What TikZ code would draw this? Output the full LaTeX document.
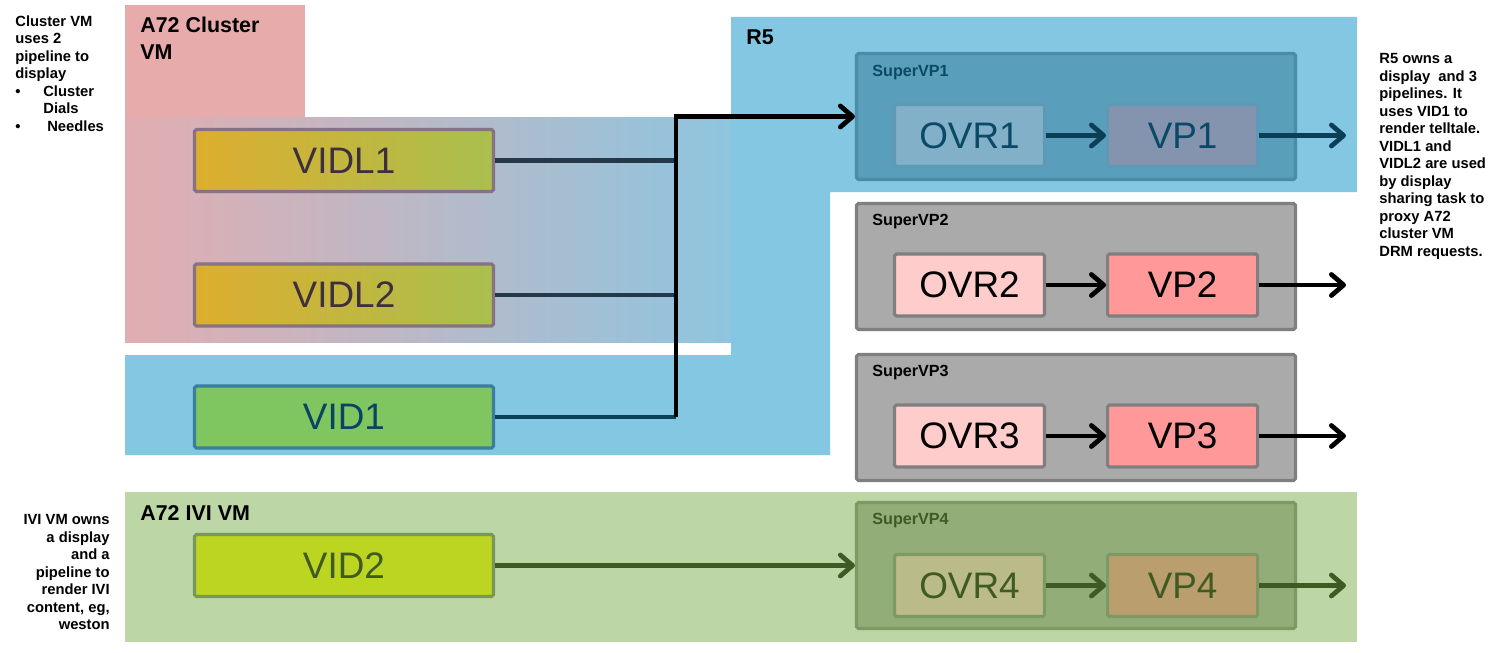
\documentclass[tikz,border=0pt]{standalone}
\usepackage{fontspec}
\setmainfont{Liberation Sans}
\usetikzlibrary{positioning,arrows.meta}

\definecolor{clusterpink}{HTML}{E8ABAB}
\definecolor{mixpink}{HTML}{E2ADB1}
\definecolor{mixblue}{HTML}{8EC5DF}
\definecolor{rblue}{HTML}{84C7E3}
\definecolor{ivigreen}{HTML}{BDD6A5}
\definecolor{svpblue}{HTML}{599EBA}
\definecolor{svpblueline}{HTML}{4A8CA8}
\definecolor{ovrblue}{HTML}{83B0C9}
\definecolor{vpblue}{HTML}{8594AE}
\definecolor{pipeblueline}{HTML}{5E9AB6}
\definecolor{tealtext}{HTML}{0B4A66}
\definecolor{svpgrey}{HTML}{AAAAAA}
\definecolor{svpgreyline}{HTML}{7F7F7F}
\definecolor{ovrpink}{HTML}{FFCCCC}
\definecolor{vppink}{HTML}{FF9999}
\definecolor{svpgreen}{HTML}{93AD79}
\definecolor{svpgreenline}{HTML}{7C9A62}
\definecolor{ovrgreen}{HTML}{BBBB8A}
\definecolor{vpbrown}{HTML}{BA9E6D}
\definecolor{greentext}{HTML}{3F5A22}
\definecolor{vidlleft}{HTML}{DDAE2E}
\definecolor{vidlright}{HTML}{A9BF4E}
\definecolor{vidlline}{HTML}{857283}
\definecolor{vidltext}{HTML}{3E2F3C}
\definecolor{vidgreen}{HTML}{80C660}
\definecolor{vidline}{HTML}{3A7D9C}
\definecolor{vidtext}{HTML}{0B4463}
\definecolor{vidlime}{HTML}{BCD521}
\definecolor{vidlimeline}{HTML}{7A9660}
\definecolor{linkslate}{HTML}{24384A}
\definecolor{linkteal}{HTML}{0B3F57}

\begin{document}
\begin{tikzpicture}[x=0.02cm,y=-0.02cm,node distance=1.2cm,
    src node/.style={rectangle,draw,line width=1.8pt,rounded corners=1pt,inner sep=0pt,
      minimum width=5.98cm,minimum height=1.24cm,font=\fontsize{21}{21}\selectfont},
    super node/.style={rectangle,draw,line width=1.8pt,rounded corners=1pt,
      minimum width=8.78cm,minimum height=2.52cm},
    pipe node/.style={rectangle,draw,line width=1.8pt,rounded corners=1pt,inner sep=0pt,
      minimum width=3cm,minimum height=1.24cm,font=\fontsize{21}{21}\selectfont},
    super label/.style={anchor=west,inner sep=0pt,font=\bfseries\fontsize{9.2}{11}\selectfont},
    vm label/.style={anchor=north west,inner sep=0pt,align=left,font=\bfseries\fontsize{12.2}{15.4}\selectfont},
    note/.style={inner sep=0pt,font=\bfseries\fontsize{8.4}{9.96}\selectfont},
    link/.style={line width=2.6pt},
    flow/.style={line width=2.7pt,-{Straight Barb[length=7pt,width=12pt,round]}}]
    \useasboundingbox (0,0) rectangle (1506,652);
    \fill[white] (0,0) rectangle (1506,652);

    % regions
    \fill[clusterpink] (125,5) rectangle (305,342);
    \shade[left color=mixpink,right color=mixblue] (125,117) rectangle (735,342);
    \fill[rblue] (731,17) -- (1357,17) -- (1357,192) -- (830,192) -- (830,455)
      -- (125,455) -- (125,355) -- (731,355) -- cycle;
    \fill[ivigreen] (125,492) rectangle (1357,642);

    \node[vm label] (cluster label) at (140,17) {A72 Cluster\\VM};
    \node[vm label] (r5 label) at (746,29) {R5};
    \node[vm label] (ivi label) at (140,505) {A72 IVI VM};

    % sources
    \node[src node,left color=vidlleft,right color=vidlright,draw=vidlline,text=vidltext] (vidl1) at (344,160.5) {VIDL1};
    \node[src node,left color=vidlleft,right color=vidlright,draw=vidlline,text=vidltext] (vidl2) at (344,295) {VIDL2};
    \node[src node,fill=vidgreen,draw=vidline,text=vidtext] (vid1) at (344,417) {VID1};
    \node[src node,fill=vidlime,draw=vidlimeline,text=greentext] (vid2) at (344,565.5) {VID2};

    % super pipelines
    \node[super node,fill=svpblue,draw=svpblueline] (svp1) at (1076,116.5) {};
    \node[super label,text=tealtext] (svp1 label) at (872,73) {SuperVP1};
    \node[pipe node,fill=ovrblue,draw=pipeblueline,text=tealtext] (ovr1) at (969.5,135.5) {OVR1};
    \node[pipe node,fill=vpblue,draw=pipeblueline,text=tealtext,right=of ovr1] (vp1) {VP1};

    \node[super node,fill=svpgrey,draw=svpgreyline] (svp2) at (1076,266.5) {};
    \node[super label] (svp2 label) at (872,222) {SuperVP2};
    \node[pipe node,fill=ovrpink,draw=svpgreyline] (ovr2) at (969.5,285) {OVR2};
    \node[pipe node,fill=vppink,draw=svpgreyline,right=of ovr2] (vp2) {VP2};

    \node[super node,fill=svpgrey,draw=svpgreyline] (svp3) at (1076,417.5) {};
    \node[super label] (svp3 label) at (872,373) {SuperVP3};
    \node[pipe node,fill=ovrpink,draw=svpgreyline] (ovr3) at (969.5,436) {OVR3};
    \node[pipe node,fill=vppink,draw=svpgreyline,right=of ovr3] (vp3) {VP3};

    \node[super node,fill=svpgreen,draw=svpgreenline] (svp4) at (1076,565.5) {};
    \node[super label,text=greentext] (svp4 label) at (872,521) {SuperVP4};
    \node[pipe node,fill=ovrgreen,draw=svpgreenline,text=greentext] (ovr4) at (969.5,585.5) {OVR4};
    \node[pipe node,fill=vpbrown,draw=svpgreenline,text=greentext,right=of ovr4] (vp4) {VP4};

    \coordinate (out1) at (1346,135.5);
    \coordinate (out2) at (1346,285);
    \coordinate (out3) at (1346,436);
    \coordinate (out4) at (1346,585.5);
    \coordinate (bus) at (676,0);

    % connectors
    \draw[link,linkslate] (vidl1.east) -- (vidl1.east -| bus);
    \draw[link,linkslate] (vidl2.east) -- (vidl2.east -| bus);
    \draw[link,linkteal] (vid1.east) -- (vid1.east -| bus);
    \draw[flow,black] (vid1.east -| bus) -- (bus |- svp1.west) -- (svp1.west);
    \draw[flow,greentext] (vid2.east) -- (svp4.west);

    \draw[flow,linkteal] (ovr1) -- (vp1);
    \draw[flow,linkteal] (vp1) -- (out1);
    \draw[flow,black] (ovr2) -- (vp2);
    \draw[flow,black] (vp2) -- (out2);
    \draw[flow,black] (ovr3) -- (vp3);
    \draw[flow,black] (vp3) -- (out3);
    \draw[flow,greentext] (ovr4) -- (vp4);
    \draw[flow,greentext] (vp4) -- (out4);

    % notes
    \node[note,anchor=north west,align=left] (cluster note) at (15,15)
      {Cluster VM\\uses 2\\pipeline to\\display\\\makebox[0.56cm][l]{\textbullet}Cluster\\\makebox[0.56cm][l]{}Dials\\\makebox[0.64cm][l]{\textbullet}Needles};
    \node[note,anchor=north west,align=left] (r5 note) at (1379,53)
      {R5 owns a\\display~ and 3\\pipelines. It\\uses VID1 to\\render telltale.\\VIDL1 and\\VIDL2 are used\\by display\\sharing task to\\proxy A72\\cluster VM\\DRM requests.};
    \node[note,anchor=north east,align=right] (ivi note) at (110,514)
      {IVI VM owns\\a display\\and a\\pipeline to\\render IVI\\content, eg,\\weston};
\end{tikzpicture}
\end{document}
